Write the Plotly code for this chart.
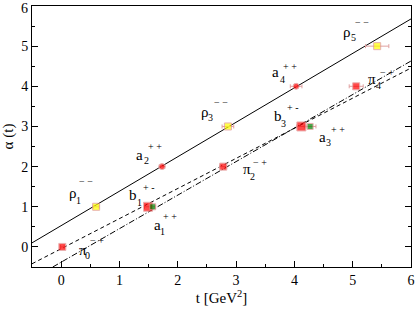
import plotly.graph_objects as go
import numpy as np

# ---- data ----
names = ["π0", "ρ1", "b1", "a1", "a2", "π2", "ρ3", "a4", "b3", "a3", "π4", "ρ5"]
t_vals = [0.02, 0.60, 1.49, 1.57, 1.73, 2.78, 2.86, 4.03, 4.12, 4.27, 5.06, 5.42]
alpha_vals = [0.0, 1.0, 1.0, 1.0, 2.0, 2.0, 3.0, 4.0, 3.0, 3.0, 4.0, 5.0]
t_err = [0.03, 0.05, 0.06, 0.05, 0.05, 0.06, 0.10, 0.10, 0.08, 0.10, 0.12, 0.20]
colors = ["red", "yellow", "red", "green", "red", "red", "yellow", "red", "red", "green", "red", "yellow"]
symbols = ["square", "square", "square", "square", "circle", "square", "square", "circle", "square", "square", "square", "square"]
sizes = [7, 7, 9, 6, 6, 7, 7, 6, 9, 6, 7, 7]

# trajectory fits: alpha = intercept + slope * t
traj_intercepts = [0.53, -0.045, -0.38]
traj_slopes = [0.858, 0.75, 0.835]
traj_t_start = [-0.5, -0.5, -0.144]
traj_dash = ["solid", "4px,3px", "6px,2px,1px,2px"]

# labels: base letter, subscript, superscript and their positions
lab_base = ["ρ", "π", "b", "a", "a", "ρ", "π", "a", "b", "a", "π", "ρ"]
lab_sub = ["1", "0", "1", "1", "2", "3", "2", "4", "3", "3", "4", "5"]
lab_sup = ["− −", "− +", "+ -", "+ +", "+ +", "− −", "− +", "+ +", "+ -", "+ +", "− +", "− −"]
lab_main_xy = [(0.21, 1.35), (0.38, -0.07), (1.23, 1.30), (1.65, 0.55), (1.34, 2.30), (2.47, 3.35),
               (3.19, 1.95), (3.67, 4.35), (3.72, 3.25), (4.49, 2.75), (5.33, 4.18), (4.91, 5.35)]
lab_sub_xy = [(0.29, 1.15), (0.46, -0.22), (1.34, 1.10), (1.73, 0.38), (1.46, 2.15), (2.56, 3.22),
              (3.28, 1.75), (3.79, 4.18), (3.82, 3.08), (4.58, 2.60), (5.44, 4.03), (5.01, 5.22)]
lab_sup_xy = [(0.43, 1.62), (0.62, 0.17), (1.49, 1.47), (1.87, 0.75), (1.61, 2.50), (2.74, 3.60),
              (3.41, 2.10), (3.93, 4.50), (3.96, 3.48), (4.75, 2.93), (5.59, 4.35), (5.16, 5.60)]

x_range = [-0.5, 6]
y_range = [-0.5, 6]

FONT = "serif"

fig = go.Figure()

for b, s, t0, d in zip(traj_intercepts, traj_slopes, traj_t_start, traj_dash):
    tt = np.array([t0, x_range[1]])
    fig.add_trace(go.Scatter(x=tt, y=b + s * tt, mode="lines",
                             line=dict(color="black", width=1, dash=d),
                             hoverinfo="skip", showlegend=False))

fig.add_trace(go.Scatter(
    x=t_vals, y=alpha_vals, mode="markers",
    error_x=dict(type="data", array=t_err, color="#e0a0a0", thickness=1, width=2),
    marker=dict(color=colors, symbol=symbols, size=sizes,
                line=dict(color="#e09090", width=1)),
    text=names, showlegend=False))

ann = []
for i in range(len(lab_base)):
    ann.append(dict(x=lab_main_xy[i][0], y=lab_main_xy[i][1], text=lab_base[i],
                    font=dict(size=15, family=FONT, color="black"), showarrow=False))
    ann.append(dict(x=lab_sub_xy[i][0], y=lab_sub_xy[i][1], text=lab_sub[i],
                    font=dict(size=10, family=FONT, color="black"), showarrow=False))
    ann.append(dict(x=lab_sup_xy[i][0], y=lab_sup_xy[i][1], text=lab_sup[i],
                    font=dict(size=10, family=FONT, color="black"), showarrow=False))

# top y tick label (hidden by plotly at the range edge)
ann.append(dict(xref="paper", x=0, yref="paper", y=1, text=str(int(y_range[1])),
                xanchor="right", yanchor="top", xshift=-3, yshift=6, borderpad=0,
                showarrow=False, font=dict(size=14, family=FONT, color="black")))

axis_common = dict(showgrid=False, zeroline=False, showline=True, linecolor="black",
                   linewidth=1, ticks="inside", ticklen=6, tickcolor="black", automargin=False,
                   tickfont=dict(size=14, family=FONT, color="black"),
                   minor=dict(ticks="inside", ticklen=3, dtick=0.5, tickcolor="black"))

fig.update_layout(
    width=415, height=309,
    margin=dict(l=32, r=4, t=6, b=42),
    paper_bgcolor="white", plot_bgcolor="white",
    font=dict(family=FONT, color="black"),
    annotations=ann,
    xaxis=dict(range=x_range, dtick=1, mirror=True,
               title=dict(text="t [GeV<sup>2</sup>]", font=dict(size=15, family=FONT), standoff=4),
               **axis_common),
    yaxis=dict(range=y_range, dtick=1, mirror="allticks",
               title=dict(text="α (t)", font=dict(size=15, family=FONT), standoff=6),
               **axis_common),
)

fig.write_html("out.html", config={"displayModeBar": False},
               post_script="document.body.style.margin='0';document.body.style.padding='0';")
